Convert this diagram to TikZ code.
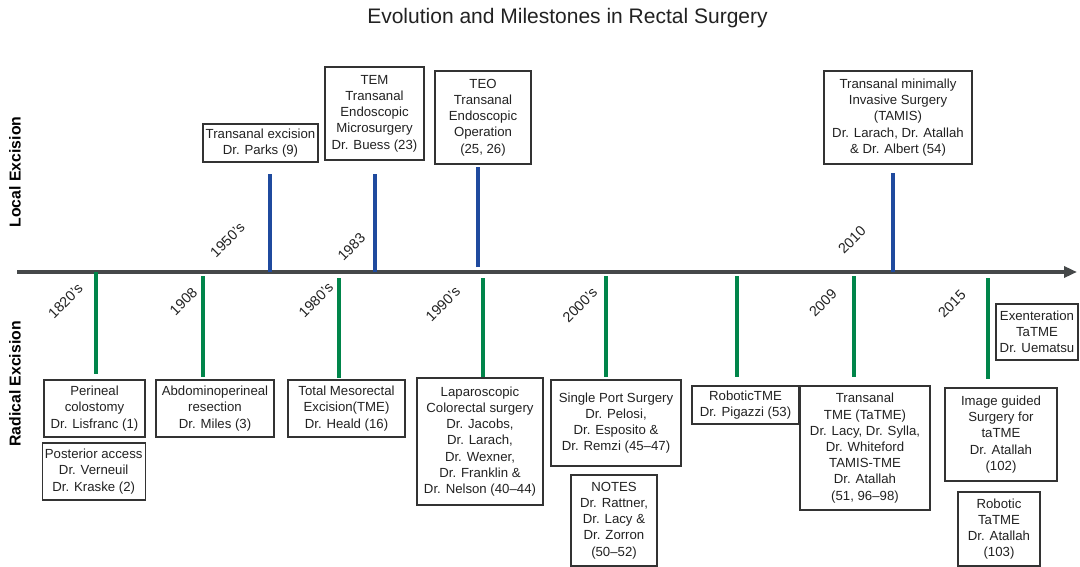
\documentclass[tikz,border=0pt]{standalone}
\usepackage{fontspec}
\setmainfont{Liberation Sans}
\usetikzlibrary{arrows.meta}
\definecolor{stemblue}{HTML}{1F4A9E}
\definecolor{stemgreen}{HTML}{00854A}
\definecolor{axisgray}{HTML}{454849}
\definecolor{boxgray}{HTML}{333333}
\definecolor{txtgray}{HTML}{222222}
\tikzset{
  evbox/.style={draw=boxgray, line width=1.4pt, fill=white, align=center, inner sep=0pt,
    text=txtgray, font=\fontsize{13.2}{16.2}\selectfont},
  upstem/.style={draw=stemblue, line width=3.6pt},
  downstem/.style={draw=stemgreen, line width=3.6pt},
  yearlbl/.style={rotate=45, text=txtgray, font=\fontsize{14.3}{16}\selectfont, inner sep=0pt},
  sidelbl/.style={rotate=90, font=\bfseries\fontsize{15.8}{18}\selectfont, text=black, inner sep=0pt},
}
\begin{document}
\begin{tikzpicture}[x=1pt,y=-1pt]
\useasboundingbox[fill=white] (0,0) rectangle (1080,567);
% title
\node[font=\fontsize{21}{24}\selectfont, text=txtgray] (title) at (567.5,18) {Evolution and Milestones in Rectal Surgery};
% side labels
\node[sidelbl] (local) at (15,172) {Local Excision};
\node[sidelbl] (radical) at (15,384) {Radical Excision};
% timeline
\coordinate (tl0) at (17,272);
\coordinate (tl1) at (1077,272);
\draw[axisgray, line width=3.6pt, -{Triangle[length=13pt,width=11pt]}] (tl0) -- (tl1);
% up stems
\coordinate (u1a) at (270,272); \coordinate (u1b) at (270,174);
\coordinate (u2a) at (375,272); \coordinate (u2b) at (375,174);
\coordinate (u3a) at (478,267); \coordinate (u3b) at (478,167);
\coordinate (u4a) at (893,272); \coordinate (u4b) at (893,173);
\draw[upstem] (u1a) -- (u1b);
\draw[upstem] (u2a) -- (u2b);
\draw[upstem] (u3a) -- (u3b);
\draw[upstem] (u4a) -- (u4b);
% down stems
\coordinate (d1a) at (96,272);  \coordinate (d1b) at (96,374);
\coordinate (d2a) at (203,276); \coordinate (d2b) at (203,377);
\coordinate (d3a) at (339,278); \coordinate (d3b) at (339,378);
\coordinate (d4a) at (483,278); \coordinate (d4b) at (483,379);
\coordinate (d5a) at (606,276); \coordinate (d5b) at (606,377);
\coordinate (d6a) at (737,276); \coordinate (d6b) at (737,377);
\coordinate (d7a) at (854,276); \coordinate (d7b) at (854,377);
\coordinate (d8a) at (988,278); \coordinate (d8b) at (988,379);
\draw[downstem] (d1a) -- (d1b);
\draw[downstem] (d2a) -- (d2b);
\draw[downstem] (d3a) -- (d3b);
\draw[downstem] (d4a) -- (d4b);
\draw[downstem] (d5a) -- (d5b);
\draw[downstem] (d6a) -- (d6b);
\draw[downstem] (d7a) -- (d7b);
\draw[downstem] (d8a) -- (d8b);
% year labels
\node[yearlbl] (y1950) at (227.5,240) {1950's};
\node[yearlbl] (y1983) at (351.5,247) {1983};
\node[yearlbl] (y2010) at (852,240) {2010};
\node[yearlbl] (y1820) at (65.5,301) {1820's};
\node[yearlbl] (y1908) at (183.5,301.5) {1908};
\node[yearlbl] (y1980) at (316,300) {1980's};
\node[yearlbl] (y1990) at (443,304) {1990's};
\node[yearlbl] (y2000) at (580,305) {2000's};
\node[yearlbl] (y2009) at (823,303) {2009};
\node[yearlbl] (y2015) at (952,304) {2015};
% top boxes
\node[evbox, minimum width=115pt, minimum height=38pt] (parks) at (260.5,143) {Transanal excision\\Dr. Parks (9)};
\node[evbox, minimum width=99pt, minimum height=93pt] (tem) at (374.5,113.5) {TEM\\Transanal\\Endoscopic\\Microsurgery\\Dr. Buess (23)};
\node[evbox, minimum width=96pt, minimum height=93pt] (teo) at (483,117.5) {TEO\\Transanal\\Endoscopic\\Operation\\(25, 26)};
\node[evbox, minimum width=148pt, minimum height=93pt] (tamis) at (898,117.5) {Transanal minimally\\Invasive Surgery\\(TAMIS)\\Dr. Larach, Dr. Atallah\\\& Dr. Albert (54)};
% bottom boxes
\node[evbox, minimum width=101pt, minimum height=57pt] (perineal) at (94.5,408.5) {Perineal\\colostomy\\Dr. Lisfranc (1)};
\node[evbox, minimum width=103pt, minimum height=57pt] (posterior) at (93.7,471.5) {Posterior access\\Dr. Verneuil\\Dr. Kraske (2)};
\node[evbox, minimum width=118pt, minimum height=57pt] (apr) at (215,408.5) {Abdominoperineal\\resection\\Dr. Miles (3)};
\node[evbox, minimum width=117pt, minimum height=57pt] (tme) at (346.5,408.5) {Total Mesorectal\\Excision(TME)\\Dr. Heald (16)};
\node[evbox, minimum width=126pt, minimum height=127pt] (lap) at (480,441.5) {Laparoscopic\\Colorectal surgery\\Dr. Jacobs,\\Dr. Larach,\\Dr. Wexner,\\Dr. Franklin \&\\Dr. Nelson (40--44)};
\node[evbox, minimum width=130pt, minimum height=86pt] (sps) at (616,423) {Single Port Surgery\\Dr. Pelosi,\\Dr. Esposito \&\\Dr. Remzi (45--47)};
\node[evbox, minimum width=86pt, minimum height=91pt] (notes) at (614,520.5) {NOTES\\Dr. Rattner,\\Dr. Lacy \&\\Dr. Zorron\\(50--52)};
\node[evbox, minimum width=107pt, minimum height=38pt] (robotic) at (745.5,405) {RoboticTME\\Dr. Pigazzi (53)};
\node[evbox, minimum width=130pt, minimum height=124pt] (tatme) at (865,448) {Transanal\\TME (TaTME)\\Dr. Lacy, Dr. Sylla,\\Dr. Whiteford\\TAMIS-TME\\Dr. Atallah\\(51, 96--98)};
\node[evbox, minimum width=82pt, minimum height=56pt] (exent) at (1037,332) {Exenteration\\TaTME\\Dr. Uematsu};
\node[evbox, minimum width=112pt, minimum height=93pt] (image) at (1001,434.5) {Image guided\\Surgery for\\taTME\\Dr. Atallah\\(102)};
\node[evbox, minimum width=82pt, minimum height=74pt] (robtatme) at (999,529) {Robotic\\TaTME\\Dr. Atallah\\(103)};
\end{tikzpicture}
\end{document}
